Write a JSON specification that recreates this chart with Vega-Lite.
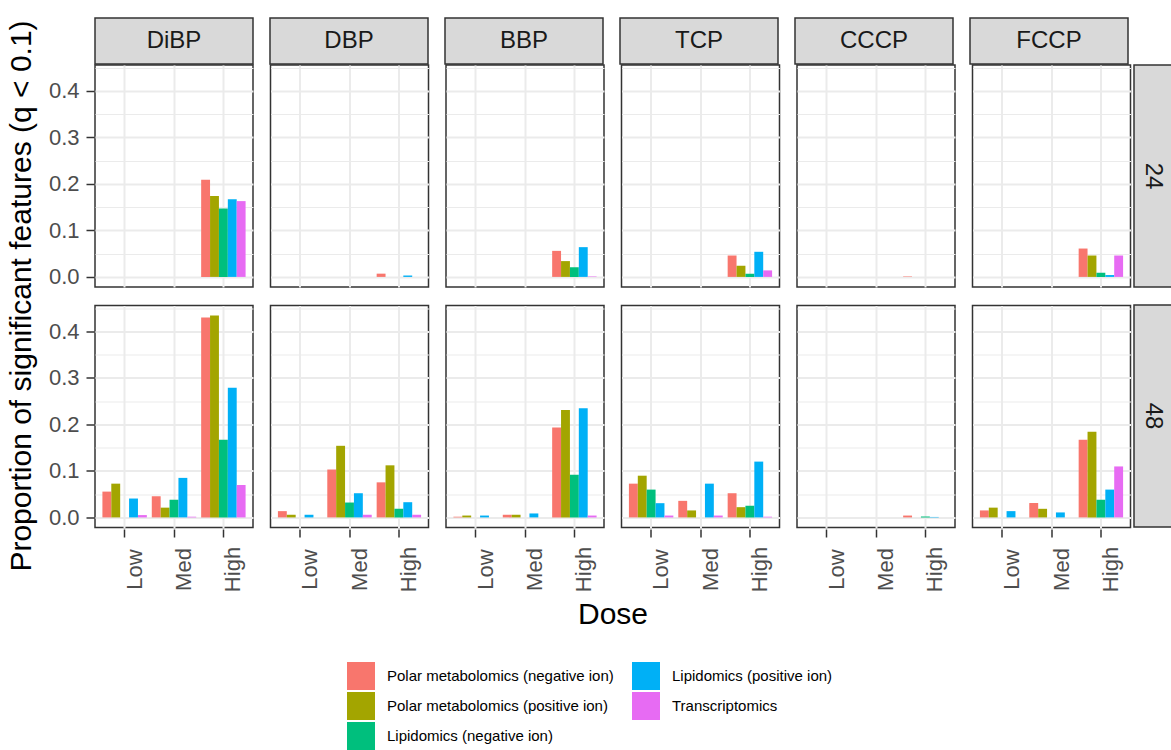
{
  "$schema": "https://vega.github.io/schema/vega-lite/v6.json",
  "padding": {"left": 6, "top": 17, "right": 0, "bottom": 0},
  "background": "white",
  "datasets": {
    "chems": [
      {"chem": "DiBP"}, {"chem": "DBP"}, {"chem": "BBP"}, {"chem": "TCP"}, {"chem": "CCCP"}, {"chem": "FCCP"}
    ],
    "times": [{"time": "24"}, {"time": "48"}],
    "bars": [
      {"chem": "DiBP", "time": "24", "dose": "High", "type": "Polar metabolomics (negative ion)", "value": 0.209},
      {"chem": "DiBP", "time": "24", "dose": "High", "type": "Polar metabolomics (positive ion)", "value": 0.174},
      {"chem": "DiBP", "time": "24", "dose": "High", "type": "Lipidomics (negative ion)", "value": 0.147},
      {"chem": "DiBP", "time": "24", "dose": "High", "type": "Lipidomics (positive ion)", "value": 0.167},
      {"chem": "DiBP", "time": "24", "dose": "High", "type": "Transcriptomics", "value": 0.163},
      {"chem": "DBP", "time": "24", "dose": "High", "type": "Polar metabolomics (negative ion)", "value": 0.007},
      {"chem": "DBP", "time": "24", "dose": "High", "type": "Lipidomics (positive ion)", "value": 0.003},
      {"chem": "BBP", "time": "24", "dose": "High", "type": "Polar metabolomics (negative ion)", "value": 0.056},
      {"chem": "BBP", "time": "24", "dose": "High", "type": "Polar metabolomics (positive ion)", "value": 0.034},
      {"chem": "BBP", "time": "24", "dose": "High", "type": "Lipidomics (negative ion)", "value": 0.021},
      {"chem": "BBP", "time": "24", "dose": "High", "type": "Lipidomics (positive ion)", "value": 0.064},
      {"chem": "BBP", "time": "24", "dose": "High", "type": "Transcriptomics", "value": 0.001},
      {"chem": "TCP", "time": "24", "dose": "High", "type": "Polar metabolomics (negative ion)", "value": 0.046},
      {"chem": "TCP", "time": "24", "dose": "High", "type": "Polar metabolomics (positive ion)", "value": 0.024},
      {"chem": "TCP", "time": "24", "dose": "High", "type": "Lipidomics (negative ion)", "value": 0.007},
      {"chem": "TCP", "time": "24", "dose": "High", "type": "Lipidomics (positive ion)", "value": 0.054},
      {"chem": "TCP", "time": "24", "dose": "High", "type": "Transcriptomics", "value": 0.014},
      {"chem": "CCCP", "time": "24", "dose": "High", "type": "Polar metabolomics (negative ion)", "value": 0.001},
      {"chem": "FCCP", "time": "24", "dose": "High", "type": "Polar metabolomics (negative ion)", "value": 0.061},
      {"chem": "FCCP", "time": "24", "dose": "High", "type": "Polar metabolomics (positive ion)", "value": 0.046},
      {"chem": "FCCP", "time": "24", "dose": "High", "type": "Lipidomics (negative ion)", "value": 0.009},
      {"chem": "FCCP", "time": "24", "dose": "High", "type": "Lipidomics (positive ion)", "value": 0.004},
      {"chem": "FCCP", "time": "24", "dose": "High", "type": "Transcriptomics", "value": 0.046},

      {"chem": "DiBP", "time": "48", "dose": "Low", "type": "Polar metabolomics (negative ion)", "value": 0.0555},
      {"chem": "DiBP", "time": "48", "dose": "Low", "type": "Polar metabolomics (positive ion)", "value": 0.0726},
      {"chem": "DiBP", "time": "48", "dose": "Low", "type": "Lipidomics (positive ion)", "value": 0.0406},
      {"chem": "DiBP", "time": "48", "dose": "Low", "type": "Transcriptomics", "value": 0.005},
      {"chem": "DiBP", "time": "48", "dose": "Med", "type": "Polar metabolomics (negative ion)", "value": 0.0455},
      {"chem": "DiBP", "time": "48", "dose": "Med", "type": "Polar metabolomics (positive ion)", "value": 0.021},
      {"chem": "DiBP", "time": "48", "dose": "Med", "type": "Lipidomics (negative ion)", "value": 0.038},
      {"chem": "DiBP", "time": "48", "dose": "Med", "type": "Lipidomics (positive ion)", "value": 0.085},
      {"chem": "DiBP", "time": "48", "dose": "Med", "type": "Transcriptomics", "value": 0.0015},
      {"chem": "DiBP", "time": "48", "dose": "High", "type": "Polar metabolomics (negative ion)", "value": 0.43},
      {"chem": "DiBP", "time": "48", "dose": "High", "type": "Polar metabolomics (positive ion)", "value": 0.434},
      {"chem": "DiBP", "time": "48", "dose": "High", "type": "Lipidomics (negative ion)", "value": 0.167},
      {"chem": "DiBP", "time": "48", "dose": "High", "type": "Lipidomics (positive ion)", "value": 0.279},
      {"chem": "DiBP", "time": "48", "dose": "High", "type": "Transcriptomics", "value": 0.0697},

      {"chem": "DBP", "time": "48", "dose": "Low", "type": "Polar metabolomics (negative ion)", "value": 0.0135},
      {"chem": "DBP", "time": "48", "dose": "Low", "type": "Polar metabolomics (positive ion)", "value": 0.0057},
      {"chem": "DBP", "time": "48", "dose": "Low", "type": "Lipidomics (positive ion)", "value": 0.0057},
      {"chem": "DBP", "time": "48", "dose": "Med", "type": "Polar metabolomics (negative ion)", "value": 0.103},
      {"chem": "DBP", "time": "48", "dose": "Med", "type": "Polar metabolomics (positive ion)", "value": 0.154},
      {"chem": "DBP", "time": "48", "dose": "Med", "type": "Lipidomics (negative ion)", "value": 0.032},
      {"chem": "DBP", "time": "48", "dose": "Med", "type": "Lipidomics (positive ion)", "value": 0.052},
      {"chem": "DBP", "time": "48", "dose": "Med", "type": "Transcriptomics", "value": 0.0057},
      {"chem": "DBP", "time": "48", "dose": "High", "type": "Polar metabolomics (negative ion)", "value": 0.0754},
      {"chem": "DBP", "time": "48", "dose": "High", "type": "Polar metabolomics (positive ion)", "value": 0.112},
      {"chem": "DBP", "time": "48", "dose": "High", "type": "Lipidomics (negative ion)", "value": 0.0185},
      {"chem": "DBP", "time": "48", "dose": "High", "type": "Lipidomics (positive ion)", "value": 0.0327},
      {"chem": "DBP", "time": "48", "dose": "High", "type": "Transcriptomics", "value": 0.0057},

      {"chem": "BBP", "time": "48", "dose": "Low", "type": "Polar metabolomics (negative ion)", "value": 0.0015},
      {"chem": "BBP", "time": "48", "dose": "Low", "type": "Polar metabolomics (positive ion)", "value": 0.004},
      {"chem": "BBP", "time": "48", "dose": "Low", "type": "Lipidomics (positive ion)", "value": 0.004},
      {"chem": "BBP", "time": "48", "dose": "Med", "type": "Polar metabolomics (negative ion)", "value": 0.0057},
      {"chem": "BBP", "time": "48", "dose": "Med", "type": "Polar metabolomics (positive ion)", "value": 0.0057},
      {"chem": "BBP", "time": "48", "dose": "Med", "type": "Lipidomics (positive ion)", "value": 0.0085},
      {"chem": "BBP", "time": "48", "dose": "High", "type": "Polar metabolomics (negative ion)", "value": 0.1936},
      {"chem": "BBP", "time": "48", "dose": "High", "type": "Polar metabolomics (positive ion)", "value": 0.231},
      {"chem": "BBP", "time": "48", "dose": "High", "type": "Lipidomics (negative ion)", "value": 0.0918},
      {"chem": "BBP", "time": "48", "dose": "High", "type": "Lipidomics (positive ion)", "value": 0.235},
      {"chem": "BBP", "time": "48", "dose": "High", "type": "Transcriptomics", "value": 0.004},

      {"chem": "TCP", "time": "48", "dose": "Low", "type": "Polar metabolomics (negative ion)", "value": 0.0726},
      {"chem": "TCP", "time": "48", "dose": "Low", "type": "Polar metabolomics (positive ion)", "value": 0.0897},
      {"chem": "TCP", "time": "48", "dose": "Low", "type": "Lipidomics (negative ion)", "value": 0.0598},
      {"chem": "TCP", "time": "48", "dose": "Low", "type": "Lipidomics (positive ion)", "value": 0.0306},
      {"chem": "TCP", "time": "48", "dose": "Low", "type": "Transcriptomics", "value": 0.004},
      {"chem": "TCP", "time": "48", "dose": "Med", "type": "Polar metabolomics (negative ion)", "value": 0.0356},
      {"chem": "TCP", "time": "48", "dose": "Med", "type": "Polar metabolomics (positive ion)", "value": 0.015},
      {"chem": "TCP", "time": "48", "dose": "Med", "type": "Lipidomics (positive ion)", "value": 0.0726},
      {"chem": "TCP", "time": "48", "dose": "Med", "type": "Transcriptomics", "value": 0.004},
      {"chem": "TCP", "time": "48", "dose": "High", "type": "Polar metabolomics (negative ion)", "value": 0.052},
      {"chem": "TCP", "time": "48", "dose": "High", "type": "Polar metabolomics (positive ion)", "value": 0.022},
      {"chem": "TCP", "time": "48", "dose": "High", "type": "Lipidomics (negative ion)", "value": 0.025},
      {"chem": "TCP", "time": "48", "dose": "High", "type": "Lipidomics (positive ion)", "value": 0.12},
      {"chem": "TCP", "time": "48", "dose": "High", "type": "Transcriptomics", "value": 0.0015},

      {"chem": "CCCP", "time": "48", "dose": "High", "type": "Polar metabolomics (negative ion)", "value": 0.004},
      {"chem": "CCCP", "time": "48", "dose": "High", "type": "Lipidomics (negative ion)", "value": 0.002},
      {"chem": "CCCP", "time": "48", "dose": "High", "type": "Lipidomics (positive ion)", "value": 0.001},

      {"chem": "FCCP", "time": "48", "dose": "Low", "type": "Polar metabolomics (negative ion)", "value": 0.015},
      {"chem": "FCCP", "time": "48", "dose": "Low", "type": "Polar metabolomics (positive ion)", "value": 0.021},
      {"chem": "FCCP", "time": "48", "dose": "Low", "type": "Lipidomics (positive ion)", "value": 0.0135},
      {"chem": "FCCP", "time": "48", "dose": "Med", "type": "Polar metabolomics (negative ion)", "value": 0.031},
      {"chem": "FCCP", "time": "48", "dose": "Med", "type": "Polar metabolomics (positive ion)", "value": 0.0185},
      {"chem": "FCCP", "time": "48", "dose": "Med", "type": "Lipidomics (positive ion)", "value": 0.0107},
      {"chem": "FCCP", "time": "48", "dose": "High", "type": "Polar metabolomics (negative ion)", "value": 0.167},
      {"chem": "FCCP", "time": "48", "dose": "High", "type": "Polar metabolomics (positive ion)", "value": 0.184},
      {"chem": "FCCP", "time": "48", "dose": "High", "type": "Lipidomics (negative ion)", "value": 0.038},
      {"chem": "FCCP", "time": "48", "dose": "High", "type": "Lipidomics (positive ion)", "value": 0.0598},
      {"chem": "FCCP", "time": "48", "dose": "High", "type": "Transcriptomics", "value": 0.1096}
    ]
  },
  "spacing": 1,
  "bounds": "flush",
  "vconcat": [
    {
      "data": {"name": "chems"},
      "width": 1033,
      "height": 46,
      "view": {"stroke": null},
      "encoding": {
        "x": {"field": "chem", "type": "nominal", "sort": ["DiBP", "DBP", "BBP", "TCP", "CCCP", "FCCP"],
          "scale": {"paddingInner": 0.09714, "paddingOuter": 0}, "axis": null}
      },
      "layer": [
        {"mark": {"type": "rect", "fill": "#d9d9d9", "stroke": "#333333", "strokeWidth": 1.5}},
        {"mark": {"type": "text", "font": "Liberation Sans", "fontSize": 24, "color": "#1a1a1a"},
         "encoding": {"text": {"field": "chem", "type": "nominal"}}}
      ]
    },
    {
      "spacing": 1,
      "hconcat": [
        {
          "data": {"name": "bars"},
          "facet": {
            "row": {"field": "time", "type": "nominal", "sort": ["24", "48"],
              "header": {"labels": false, "title": "Proportion of significant features (q < 0.1)", "titleOrient": "left", "titleFont": "Liberation Sans", "titleFontSize": 30, "titleFontWeight": "normal", "titleColor": "#000000", "titlePadding": 1}},
            "column": {"field": "chem", "type": "nominal", "sort": ["DiBP", "DBP", "BBP", "TCP", "CCCP", "FCCP"],
              "header": {"labels": false, "title": "Dose", "titleOrient": "bottom", "titleFont": "Liberation Sans", "titleFontSize": 30, "titleFontWeight": "normal", "titleColor": "#000000", "titlePadding": -2}}
          },
          "spacing": {"row": 16.5, "column": 15.5},
          "spec": {
            "width": 158,
            "height": 222,
            "view": {"fill": "white", "stroke": "#333333", "strokeWidth": 1.5},
            "mark": {"type": "bar"},
            "encoding": {
              "x": {"field": "dose", "type": "nominal", "sort": ["Low", "Med", "High"],
                "scale": {"paddingInner": 0.1, "paddingOuter": 0.15},
                "axis": {"title": null, "bandPosition": 0.5, "labelAngle": 270, "labelAlign": "center", "labelBaseline": "top", "labelPadding": 32, "tickSize": 8, "grid": true, "gridWidth": 2}},
              "xOffset": {"field": "type", "type": "nominal", "sort": ["Polar metabolomics (negative ion)", "Polar metabolomics (positive ion)", "Lipidomics (negative ion)", "Lipidomics (positive ion)", "Transcriptomics"]},
              "y": {"field": "value", "type": "quantitative",
                "scale": {"domain": [-0.0217, 0.4557], "nice": false, "zero": false},
                "axis": {"title": null, "values": [0, 0.05, 0.1, 0.15, 0.2, 0.25, 0.3, 0.35, 0.4, 0.45],
                  "labelExpr": "round(datum.value*20) % 2 == 0 ? format(datum.value, '.1f') : ''",
                  "tickOpacity": {"condition": {"test": "round(datum.value*20) % 2 == 1", "value": 0}, "value": 1},
                  "gridWidth": {"condition": {"test": "round(datum.value*20) % 2 == 1", "value": 1}, "value": 2},
                  "tickSize": 8, "labelPadding": 7}},
              "y2": {"datum": 0},
              "color": {"field": "type", "type": "nominal",
                "scale": {"domain": ["Polar metabolomics (negative ion)", "Polar metabolomics (positive ion)", "Lipidomics (negative ion)", "Lipidomics (positive ion)", "Transcriptomics"],
                  "range": ["#F8766D", "#A3A500", "#00BF7D", "#00B0F6", "#E76BF3"]},
                "legend": {"title": null, "orient": "bottom", "columns": 2,
                  "values": ["Polar metabolomics (negative ion)", "Lipidomics (positive ion)", "Polar metabolomics (positive ion)", "Transcriptomics", "Lipidomics (negative ion)"]}}
            }
          }
        },
        {
          "data": {"name": "times"},
          "width": 38,
          "height": 462,
          "view": {"stroke": null},
          "encoding": {
            "y": {"field": "time", "type": "nominal", "sort": ["24", "48"],
              "scale": {"paddingInner": 0.075, "paddingOuter": 0}, "axis": null}
          },
          "layer": [
            {"mark": {"type": "rect", "fill": "#d9d9d9", "stroke": "#333333", "strokeWidth": 1.5}},
            {"mark": {"type": "text", "font": "Liberation Sans", "fontSize": 24, "color": "#1a1a1a", "angle": 90},
             "encoding": {"text": {"field": "time", "type": "nominal"}}}
          ]
        }
      ]
    }
  ],
  "config": {
    "font": "Liberation Sans",
    "axis": {
      "domain": false,
      "labelFont": "Liberation Sans",
      "labelFontSize": 22,
      "labelColor": "#4d4d4d",
      "tickColor": "#333333",
      "tickWidth": 1.5,
      "gridColor": "#ebebeb"
    },
    "legend": {
      "symbolType": "square",
      "symbolSize": 784,
      "symbolStrokeWidth": 0,
      "symbolOpacity": 1,
      "labelFont": "Liberation Sans",
      "labelFontSize": 15,
      "labelColor": "#000000",
      "labelLimit": 0,
      "labelOffset": 12,
      "rowPadding": 2,
      "columnPadding": 18,
      "offset": 32,
      "layout": {"bottom": {"anchor": "middle"}}
    }
  }
}
